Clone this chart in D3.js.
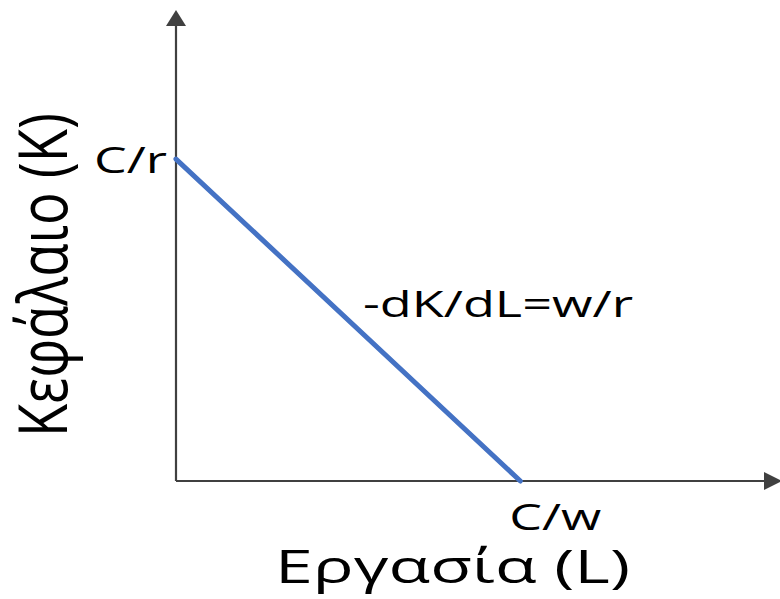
<!DOCTYPE html>
<html>
<head>
<meta charset="utf-8">
<script src="https://cdn.jsdelivr.net/npm/d3@7"></script>
<style>
  body { margin: 0; background: #fff; }
  text { font-family: "Open Sans", "DejaVu Sans", sans-serif; fill: #000; }
</style>
</head>
<body>
<svg id="svg" width="780" height="599"></svg>
<script>
// budget line: K = C/r - (w/r) L, both intercepts normalised to 1
const pointNames = ["C/r", "C/w"];
const pointL = [0, 1];
const pointK = [1, 0];
const xAxisTitle = "Εργασία (L)";
const yAxisTitle = "Κεφάλαιο (K)";
const slopeLabel = "-dK/dL=w/r";
const xMax = 1.76;
const yMax = 1.463;

const svg = d3.select("#svg");

const x = d3.scaleLinear().domain([0, xMax]).range([176, 782]);
const y = d3.scaleLinear().domain([0, yMax]).range([481, 10]);

const points = pointNames.map((n, i) => ({ name: n, L: pointL[i], K: pointK[i] }));
const axisColor = "#404040";

// the source picture is stretched sideways, so widths are fixed with textLength
const label = (txt, size, len, anchor) => svg.append("text")
  .attr("font-size", size)
  .attr("text-anchor", anchor)
  .attr("textLength", len)
  .attr("lengthAdjust", "spacingAndGlyphs")
  .text(txt);

// axes
svg.append("line")
  .attr("x1", x(0)).attr("y1", y(0))
  .attr("x2", x(xMax) - 10).attr("y2", y(0))
  .attr("stroke", axisColor).attr("stroke-width", 2.2);
svg.append("path")
  .attr("d", `M${x(xMax)},${y(0)} l-18,-9 l0,18 Z`)
  .attr("fill", axisColor);

svg.append("line")
  .attr("x1", x(0)).attr("y1", y(0))
  .attr("x2", x(0)).attr("y2", y(yMax) + 10)
  .attr("stroke", axisColor).attr("stroke-width", 2.2);
svg.append("path")
  .attr("d", `M${x(0)},${y(yMax)} l-10,16 l20,0 Z`)
  .attr("fill", axisColor);

// budget line
svg.append("path")
  .datum(points)
  .attr("d", d3.line().x(d => x(d.L)).y(d => y(d.K)))
  .attr("stroke", "#4472C4")
  .attr("stroke-width", 5)
  .attr("stroke-linecap", "round")
  .attr("fill", "none");

// intercept labels
label(points[0].name, 37, 73, "end")
  .attr("x", x(points[0].L) - 9).attr("y", y(points[0].K) + 14);

label(points[1].name, 37, 92, "start")
  .attr("x", x(points[1].L) - 11).attr("y", y(0) + 49);

// slope label
label(slopeLabel, 37, 270, "start")
  .attr("x", 363).attr("y", 317);

// axis titles
label(xAxisTitle, 46, 355, "start")
  .attr("x", 275).attr("y", 583);

svg.append("text")
  .attr("transform", "translate(67,275) rotate(-90) scale(1,1.4)")
  .attr("text-anchor", "middle")
  .attr("font-size", 48)
  .attr("textLength", 324)
  .attr("lengthAdjust", "spacingAndGlyphs")
  .text(yAxisTitle);
</script>
</body>
</html>
